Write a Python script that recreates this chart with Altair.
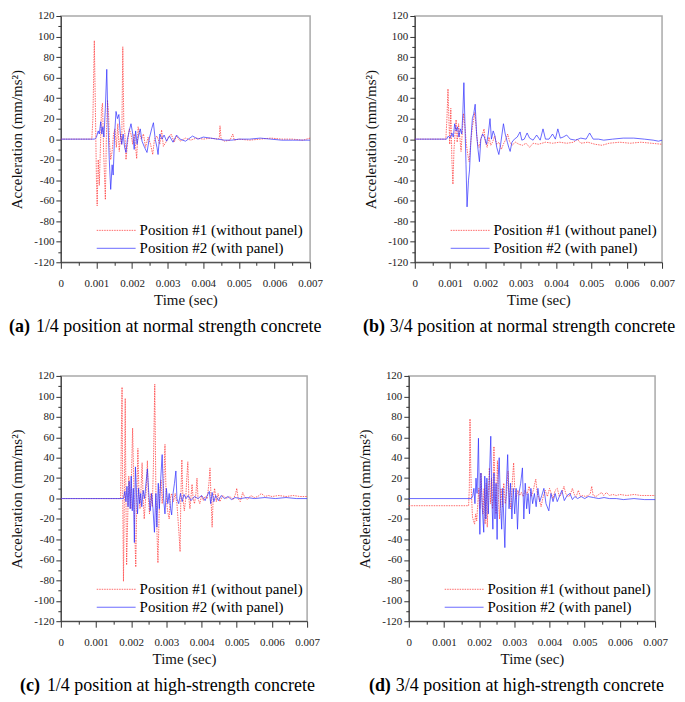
import altair as alt
import pandas as pd

FONT = "Liberation Serif"
RED = "#ff3030"
BLUE = "#3030ff"

X_TICKS = [0, 0.0005, 0.001, 0.0015, 0.002, 0.0025, 0.003, 0.0035,
           0.004, 0.0045, 0.005, 0.0055, 0.006, 0.0065, 0.007]
Y_TICKS = [-120, -110, -100, -90, -80, -70, -60, -50, -40, -30, -20, -10, 0,
           10, 20, 30, 40, 50, 60, 70, 80, 90, 100, 110, 120]
LEGEND = ["Position #1 (without panel)", "Position #2 (with panel)"]
X_TITLE = "Time (sec)"
Y_TITLE = "Acceleration (mm/ms²)"

# (time in ms, acceleration in mm/ms^2)
A_RED = [(0, 0), (0.87, 0), (0.90, 20), (0.94, 96), (0.97, 30), (1.00, -40), (1.02, -65),
         (1.05, -20), (1.08, -45), (1.11, -10), (1.14, 28), (1.17, 35), (1.20, -10), (1.23, -40),
         (1.25, -59), (1.28, 5), (1.31, 38), (1.34, 25), (1.37, -5), (1.40, -20), (1.44, -12),
         (1.48, 5), (1.52, 10), (1.56, -8), (1.60, 15), (1.64, -12), (1.68, 5), (1.71, -5),
         (1.74, 90), (1.77, 10), (1.80, 5), (1.83, -20), (1.87, -5), (1.92, 10), (1.97, 5),
         (2.02, -5), (2.06, 5), (2.10, -8), (2.13, -19), (2.17, 12), (2.21, 5), (2.26, 0),
         (2.32, 5), (2.38, -8), (2.45, 2), (2.52, -5), (2.58, -15), (2.63, 0), (2.70, 3),
         (2.78, -5), (2.83, 9), (2.88, -7), (2.95, -3), (3.02, 2), (3.10, 5), (3.18, -3),
         (3.25, 3), (3.35, -2), (3.50, 1), (3.65, -1), (3.80, 1), (4.00, 0), (4.20, 1),
         (4.40, 0), (4.45, 1), (4.47, 13), (4.50, 0), (4.60, -2), (4.75, -1), (4.83, 5),
         (4.87, -1), (5.00, 0), (5.30, -1), (5.60, 0), (5.90, 1), (6.20, 0), (6.50, 0),
         (6.80, -1), (7.00, 1)]
A_BLUE = [(0, 0), (0.95, 0), (1.00, 2), (1.05, 8), (1.08, 5), (1.12, 17), (1.15, 5), (1.18, 12),
          (1.21, 2), (1.25, 30), (1.29, 68), (1.32, 20), (1.36, -20), (1.40, -49), (1.44, -25),
          (1.47, -35), (1.51, 5), (1.55, 27), (1.59, 20), (1.63, 24), (1.67, 5), (1.71, -5),
          (1.75, 5), (1.79, -8), (1.83, -13), (1.87, 0), (1.92, 8), (1.97, 15), (2.02, 5),
          (2.06, -10), (2.10, 8), (2.14, -5), (2.19, 5), (2.23, 10), (2.28, -2), (2.35, -8),
          (2.42, -13), (2.48, 0), (2.55, 10), (2.60, 16), (2.65, 0), (2.70, -8), (2.73, -15),
          (2.78, 5), (2.84, 0), (2.90, 4), (2.97, -2), (3.05, 3), (3.15, -3), (3.25, 4),
          (3.35, 0), (3.50, -2), (3.70, 3), (3.85, 0), (4.00, 2), (4.20, 1), (4.40, 0),
          (4.60, -1), (4.80, -1), (5.00, 0), (5.30, 0), (5.60, 1), (5.90, 0), (6.20, -1),
          (6.50, -1), (6.80, -1), (7.00, -1)]

B_RED = [(0, 0), (0.88, 0), (0.91, 20), (0.94, 49), (0.97, 15), (0.99, -5), (1.02, 30),
         (1.05, -20), (1.08, -44), (1.11, -10), (1.14, 5), (1.17, 19), (1.20, -3), (1.24, 15),
         (1.28, 0), (1.31, -12), (1.35, 10), (1.38, 25), (1.42, 12), (1.46, -5), (1.50, -15),
         (1.54, -22), (1.58, -5), (1.63, 12), (1.67, 20), (1.70, 26), (1.74, 10), (1.78, -5),
         (1.82, -8), (1.87, 0), (1.92, 5), (1.96, 10), (2.00, -3), (2.05, -8), (2.10, 2),
         (2.15, -6), (2.20, -3), (2.26, 3), (2.32, -5), (2.38, -3), (2.45, -10), (2.52, -4),
         (2.58, 0), (2.63, 5), (2.68, -2), (2.75, -6), (2.85, -3), (2.95, -5), (3.05, -6),
         (3.15, -4), (3.25, -8), (3.35, -4), (3.50, -5), (3.70, -3), (3.90, -4), (4.10, -3),
         (4.30, -4), (4.50, -3), (4.60, 0), (4.70, -4), (4.90, -3), (5.10, -5), (5.30, -6),
         (5.50, -4), (5.80, -3), (6.10, -4), (6.40, -3), (6.70, -4), (7.00, -5)]
B_BLUE = [(0, 0), (0.90, 0), (0.95, 3), (1.00, 1), (1.05, 6), (1.09, 2), (1.13, 15), (1.17, 8),
          (1.21, 12), (1.25, 2), (1.29, 10), (1.33, 5), (1.36, 25), (1.39, 55), (1.42, 15),
          (1.45, -25), (1.48, -66), (1.52, -40), (1.55, -30), (1.59, 0), (1.63, 20), (1.67, 25),
          (1.71, 34), (1.75, 5), (1.79, -10), (1.83, -22), (1.87, 0), (1.92, 5), (1.97, 2),
          (2.03, -5), (2.08, 5), (2.13, 20), (2.17, 0), (2.22, 8), (2.27, 3), (2.32, -8),
          (2.38, -15), (2.43, -5), (2.47, 5), (2.51, 15), (2.56, 5), (2.62, -3), (2.66, -8),
          (2.70, -12), (2.75, -3), (2.82, 0), (2.90, 2), (2.98, 7), (3.03, -1), (3.10, 0),
          (3.18, 6), (3.25, 1), (3.35, -1), (3.45, 4), (3.55, -1), (3.63, 10), (3.70, 0),
          (3.80, 0), (3.90, 5), (3.98, 0), (4.05, 10), (4.12, 1), (4.20, 2), (4.30, 4),
          (4.40, 0), (4.55, -1), (4.70, 1), (4.85, 0), (4.95, 6), (5.05, 0), (5.20, 0),
          (5.35, -1), (5.60, 0), (5.90, 1), (6.20, 1), (6.50, 0), (6.75, -1), (6.90, -2),
          (7.00, -1)]

C_RED = [(0, 0), (1.70, 0), (1.72, 60), (1.74, 109), (1.76, 0), (1.78, -81), (1.81, 20),
         (1.83, 98), (1.85, 0), (1.87, -65), (1.90, -20), (1.93, 22), (1.96, 10), (1.99, -10),
         (2.02, 40), (2.04, 69), (2.07, 20), (2.10, -30), (2.13, -67), (2.16, 0), (2.19, 49),
         (2.22, 5), (2.25, -10), (2.28, 10), (2.31, 35), (2.34, 0), (2.37, -20), (2.40, -5),
         (2.43, 10), (2.46, 37), (2.49, 0), (2.52, -15), (2.56, 5), (2.60, -8), (2.63, 30),
         (2.67, 112), (2.70, 10), (2.73, -30), (2.76, -63), (2.79, -20), (2.82, 10), (2.85, 18),
         (2.88, -5), (2.91, 8), (2.93, 20), (2.96, 53), (2.99, 5), (3.02, -8), (3.05, -15),
         (3.08, -20), (3.11, 0), (3.15, 5), (3.20, -3), (3.25, 5), (3.30, -5), (3.35, -30),
         (3.39, -52), (3.41, 0), (3.44, 38), (3.47, 0), (3.51, -12), (3.55, 0), (3.58, 20),
         (3.61, 36), (3.64, 0), (3.67, -10), (3.70, 2), (3.73, 14), (3.76, 0), (3.80, -5),
         (3.84, 5), (3.87, 20), (3.90, 0), (3.95, -5), (4.00, 3), (4.05, -2), (4.10, 2),
         (4.16, 0), (4.21, 15), (4.24, 30), (4.27, 0), (4.30, -28), (4.33, 0), (4.37, 10),
         (4.42, -3), (4.47, 5), (4.52, -3), (4.60, 3), (4.70, 0), (4.80, 2), (4.90, -1),
         (4.97, 5), (5.00, 10), (5.04, 0), (5.10, -3), (5.17, 6), (5.22, 2), (5.30, -1),
         (5.40, 3), (5.50, 1), (5.60, 2), (5.70, 5), (5.80, 2), (5.90, 3), (6.00, 2),
         (6.20, 3), (6.40, 2), (6.60, 3), (6.80, 2), (7.00, 2)]
C_BLUE = [(0, 0), (1.78, 0), (1.82, 7), (1.85, -3), (1.88, 12), (1.91, -8), (1.94, 17),
          (1.97, -10), (2.00, 22), (2.03, -12), (2.06, 10), (2.09, -43), (2.12, 31), (2.15, 5),
          (2.18, -15), (2.21, 10), (2.24, -5), (2.27, 5), (2.30, -8), (2.34, 8), (2.38, 0),
          (2.42, 15), (2.46, 29), (2.50, 5), (2.54, -12), (2.58, 5), (2.62, -10), (2.66, -33),
          (2.70, 5), (2.73, -28), (2.77, 15), (2.80, -10), (2.84, 20), (2.88, 43), (2.92, 0),
          (2.96, -15), (3.00, 10), (3.04, -5), (3.08, 5), (3.12, -10), (3.15, -16), (3.19, 5),
          (3.23, 15), (3.27, 27), (3.30, 0), (3.35, -5), (3.40, 5), (3.45, -3), (3.50, 4),
          (3.56, 0), (3.62, 3), (3.70, -2), (3.80, 2), (3.90, 0), (4.00, 3), (4.10, -2),
          (4.16, 3), (4.22, 7), (4.26, -5), (4.30, 6), (4.35, -3), (4.40, 3), (4.48, -2),
          (4.56, 3), (4.65, 0), (4.75, 2), (4.85, -1), (4.95, 1), (5.10, 0), (5.30, 1),
          (5.50, 0), (5.80, 1), (6.10, 0), (6.40, 1), (6.70, 0), (7.00, 0)]

D_RED = [(0, -7), (1.70, -7), (1.72, 10), (1.74, 78), (1.76, 30), (1.78, 5), (1.81, -18),
         (1.84, -22), (1.87, -25), (1.90, -15), (1.93, -22), (1.96, -5), (1.99, 10), (2.02, -10),
         (2.05, 25), (2.08, 0), (2.11, -15), (2.14, 10), (2.17, -25), (2.20, 15), (2.23, -28),
         (2.26, 5), (2.29, 30), (2.32, -5), (2.35, 20), (2.38, -10), (2.42, 51), (2.45, 10),
         (2.48, -15), (2.52, 37), (2.55, 0), (2.58, -20), (2.62, 10), (2.66, -8), (2.70, 15),
         (2.74, -5), (2.78, 5), (2.82, 27), (2.86, 0), (2.90, -10), (2.94, 15), (2.98, 35),
         (3.01, 10), (3.05, 0), (3.10, 8), (3.15, 3), (3.20, 6), (3.25, 2), (3.30, 8),
         (3.36, 4), (3.42, 12), (3.48, 2), (3.54, 8), (3.58, 15), (3.61, 19), (3.65, 5),
         (3.70, 0), (3.76, -8), (3.82, 2), (3.88, 8), (3.94, 2), (4.00, 10), (4.05, 5),
         (4.10, 0), (4.16, 8), (4.22, 10), (4.28, 2), (4.34, 4), (4.41, 12), (4.46, 5),
         (4.52, 2), (4.58, 3), (4.65, 10), (4.70, 4), (4.76, 2), (4.82, 8), (4.88, 2),
         (4.95, 3), (5.02, 2), (5.10, 3), (5.16, 5), (5.20, 12), (5.24, 3), (5.32, 2),
         (5.40, 4), (5.48, 6), (5.54, 3), (5.62, 6), (5.70, 3), (5.80, 4), (5.90, 3),
         (6.00, 4), (6.20, 3), (6.40, 4), (6.60, 3), (6.80, 3), (7.00, 3)]
D_BLUE = [(0, 0), (1.78, 0), (1.82, 3), (1.85, 10), (1.88, -5), (1.91, 20), (1.94, 5),
          (1.98, 59), (2.02, -35), (2.05, 25), (2.09, -10), (2.13, -33), (2.16, 22), (2.19, -20),
          (2.22, 20), (2.26, -15), (2.30, 30), (2.33, 61), (2.36, 0), (2.39, -30), (2.42, 25),
          (2.45, -20), (2.48, 15), (2.51, -40), (2.54, 20), (2.57, 40), (2.60, 0), (2.64, -30),
          (2.67, 10), (2.70, -20), (2.73, -48), (2.77, 10), (2.81, 43), (2.85, -10), (2.89, 15),
          (2.93, -20), (2.97, 10), (3.01, -15), (3.05, 10), (3.09, -30), (3.13, 5), (3.18, 15),
          (3.23, 30), (3.27, -20), (3.31, 15), (3.35, -10), (3.39, 5), (3.43, -15), (3.47, 10),
          (3.52, -5), (3.57, 5), (3.62, -8), (3.67, 10), (3.72, -3), (3.78, 3), (3.84, 10),
          (3.90, -5), (3.98, -12), (4.04, 5), (4.10, -3), (4.16, 5), (4.22, -3), (4.28, 2),
          (4.35, 8), (4.42, -2), (4.50, 3), (4.58, 5), (4.65, -1), (4.72, 2), (4.80, 0),
          (4.90, 2), (5.00, 0), (5.10, 2), (5.25, 1), (5.40, 0), (5.55, 1), (5.70, 0),
          (5.90, 0), (6.10, -1), (6.40, 0), (6.70, -1), (7.00, -1)]

CAPTIONS = [
    ("(a)", "1/4 position at normal strength concrete"),
    ("(b)", "3/4 position at normal strength concrete"),
    ("(c)", "1/4 position at high-strength concrete"),
    ("(d)", "3/4 position at high-strength concrete"),
]

MAJOR_X = "round(datum.value * 2000) % 2 == 0"
MAJOR_Y = "round(datum.value / 10) % 2 == 0"


def frame(pairs):
    return pd.DataFrame({"t": [p[0] / 1000 for p in pairs], "v": [p[1] for p in pairs]})


def one(text):
    return alt.Data(values=[{"s": text}])


def panel(red, blue, caption, W, H, cap_x):
    x = alt.X(
        "t:Q",
        scale=alt.Scale(domain=[0, 0.007], nice=False, zero=False),
        axis=alt.Axis(
            values=X_TICKS, title=X_TITLE,
            labelExpr=f"{MAJOR_X} ? '' + datum.value : ''",
            tickSize={"condition": {"test": MAJOR_X, "value": 6}, "value": 3},
            labelPadding=9, titlePadding=4, labelOverlap=False, labelFlush=False,
            grid=False,
        ),
    )
    y = alt.Y(
        "v:Q",
        scale=alt.Scale(domain=[-120, 120], nice=False),
        axis=alt.Axis(
            values=Y_TICKS, title=Y_TITLE,
            labelExpr=f"{MAJOR_Y} ? '' + datum.value : ''",
            tickSize={"condition": {"test": MAJOR_Y, "value": 5}, "value": 3},
            labelPadding=2, titlePadding=9, labelOverlap=False, labelFlush=False,
            grid=False,
        ),
    )
    red_line = alt.Chart(frame(red)).mark_line(
        color=RED, strokeWidth=0.9, strokeDash=[1.5, 1], opacity=0.8
    ).encode(x=x, y=y)
    blue_line = alt.Chart(frame(blue)).mark_line(
        color=BLUE, strokeWidth=0.9, opacity=0.8
    ).encode(x=x, y=y)

    leg_y1, leg_y2 = H - 32, H - 14
    rule1 = alt.Chart(one(LEGEND[0])).mark_rule(
        color=RED, strokeWidth=0.9, strokeDash=[1.5, 1], opacity=0.8
    ).encode(x=alt.value(36), x2=alt.value(75), y=alt.value(leg_y1))
    rule2 = alt.Chart(one(LEGEND[1])).mark_rule(
        color=BLUE, strokeWidth=0.9, opacity=0.8
    ).encode(x=alt.value(36), x2=alt.value(75), y=alt.value(leg_y2))
    txt1 = alt.Chart(one(LEGEND[0])).mark_text(
        align="left", baseline="middle", font=FONT, fontSize=15, color="black"
    ).encode(x=alt.value(79), y=alt.value(leg_y1), text="s:N")
    txt2 = alt.Chart(one(LEGEND[1])).mark_text(
        align="left", baseline="middle", font=FONT, fontSize=15, color="black"
    ).encode(x=alt.value(79), y=alt.value(leg_y2), text="s:N")

    cap_y = H + 65
    cap_b = alt.Chart(one(caption[0])).mark_text(
        align="left", baseline="middle", font=FONT, fontSize=18, fontWeight="bold", color="black"
    ).encode(x=alt.value(cap_x), y=alt.value(cap_y), text="s:N")
    cap_r = alt.Chart(one(caption[1])).mark_text(
        align="left", baseline="middle", font=FONT, fontSize=18, color="black"
    ).encode(x=alt.value(cap_x + 27), y=alt.value(cap_y), text="s:N")

    return alt.layer(red_line, blue_line, rule1, rule2, txt1, txt2, cap_b, cap_r).properties(
        width=W, height=H
    )


pa = panel(A_RED, A_BLUE, CAPTIONS[0], 250, 247, -52)
pb = panel(B_RED, B_BLUE, CAPTIONS[1], 248, 247, -52)
pc = panel(C_RED, C_BLUE, CAPTIONS[2], 247, 246, -41)
pd_ = panel(D_RED, D_BLUE, CAPTIONS[3], 247, 246, -40)

top = alt.hconcat(pa, pb, spacing=38)
bottom = alt.hconcat(pc, pd_, spacing=36)

chart = (
    alt.vconcat(top, bottom, spacing=32)
    .properties(padding=0)
    .configure_view(stroke="#a9a9a9", strokeWidth=1.5)
    .configure_axis(
        labelFont=FONT, labelFontSize=11, labelColor="#222",
        titleFont=FONT, titleFontSize=15, titleFontWeight="normal", titleColor="#111",
        domainColor="#333", domainWidth=1, tickColor="#333", tickWidth=1,
    )
)

chart.save("out.html", embed_options={"renderer": "svg", "actions": False})
